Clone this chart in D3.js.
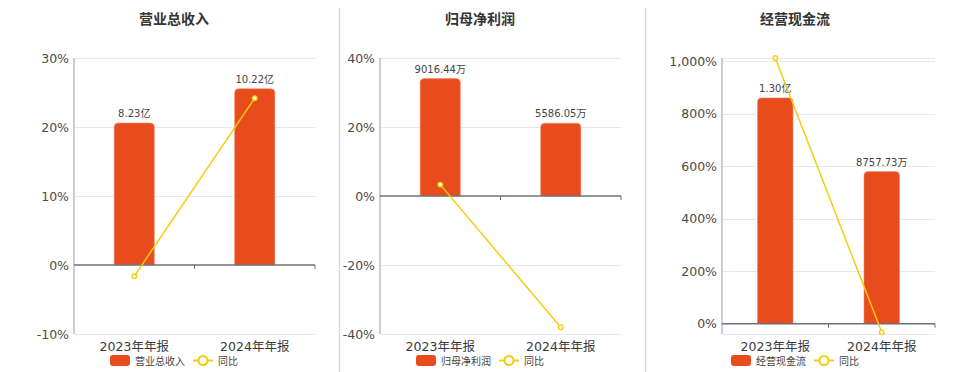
<!DOCTYPE html>
<html>
<head>
<meta charset="utf-8">
<script src="https://cdn.jsdelivr.net/npm/d3@7/dist/d3.min.js"></script>
<style>
  html, body { margin: 0; padding: 0; background: #fff; }
  svg { display: block; font-family: "DejaVu Sans", "Noto Sans CJK SC", sans-serif; }
</style>
</head>
<body>
<svg id="chart" width="960" height="372"></svg>
<script>
// ---- data ----
const categories = ["2023年年报", "2024年年报"];

const revenueTitle = "营业总收入";
const revenueValues = [8.23, 10.22];            // 亿
const revenueLabels = ["8.23亿", "10.22亿"];
const revenueYoY = [-1.64, 24.18];              // %
const revenueTicks = [-10, 0, 10, 20, 30];

const profitTitle = "归母净利润";
const profitValues = [9016.44, 5586.05];        // 万
const profitLabels = ["9016.44万", "5586.05万"];
const profitYoY = [3.3, -38.05];
const profitTicks = [-40, -20, 0, 20, 40];

const cashTitle = "经营现金流";
const cashValues = [13000, 8757.73];            // 万
const cashLabels = ["1.30亿", "8757.73万"];
const cashYoY = [1012, -32.63];
const cashTicks = [0, 200, 400, 600, 800, 1000];

const legendYoY = "同比";

// ---- style ----
const barColor = "#E84C1D";
const lineColor = "#F5CC0C";
const gridColor = "#E3E8F2";
const textColor = "#4a4a4a";

const svg = d3.select("#chart");

// separators
[339.5, 645.5].forEach(x => {
  svg.append("line").attr("x1", x).attr("x2", x).attr("y1", 8).attr("y2", 372)
    .attr("stroke", "#d9d9d9").attr("stroke-width", 1.5);
});

const pctFormat = d => d.toLocaleString("en-US") + "%";

function drawPanel(cfg) {
  const g = svg.append("g");
  const y = d3.scaleLinear().domain(cfg.pctDomain).range([cfg.bottom, cfg.top]);
  // hidden bar scale with zero aligned to the percent axis
  const ratio = cfg.barTop / cfg.pctDomain[1];
  const yb = d3.scaleLinear().domain([cfg.pctDomain[0] * ratio, cfg.barTop]).range([cfg.bottom, cfg.top]);
  const x = d3.scaleBand().domain(categories).range([cfg.left, cfg.right]);
  const bw = x.bandwidth() / 3;

  // title
  g.append("text").attr("x", cfg.titleX).attr("y", 24).attr("text-anchor", "middle")
    .attr("font-size", 14).attr("font-weight", "bold").attr("fill", "#333")
    .attr("font-family", "'Noto Sans CJK SC', sans-serif").text(cfg.title);

  // grid lines
  const gridVals = cfg.ticks.filter(t => t !== 0);
  g.selectAll(".grid").data(gridVals).join("line")
    .attr("x1", cfg.left).attr("x2", cfg.right)
    .attr("y1", d => Math.round(y(d)) + 0.5).attr("y2", d => Math.round(y(d)) + 0.5)
    .attr("stroke", gridColor).attr("stroke-width", 1);
  [cfg.top, cfg.bottom].forEach(v => {
    g.append("line").attr("x1", cfg.left).attr("x2", cfg.right)
      .attr("y1", Math.round(v) + 0.5).attr("y2", Math.round(v) + 0.5)
      .attr("stroke", gridColor).attr("stroke-width", 1);
  });

  // y axis labels
  const yAxis = d3.axisLeft(y).tickValues(cfg.ticks).tickSize(0).tickPadding(5)
    .tickFormat(pctFormat);
  const ya = g.append("g").attr("transform", `translate(${cfg.left},0)`).call(yAxis);
  ya.select(".domain").remove();
  ya.selectAll("text").attr("font-size", 12.5).attr("fill", textColor)
    .attr("font-family", "'DejaVu Sans', sans-serif");

  // y axis line
  g.append("line").attr("x1", cfg.left).attr("x2", cfg.left)
    .attr("y1", cfg.top).attr("y2", cfg.bottom)
    .attr("stroke", "#b8bcc4").attr("stroke-width", 1.5);

  // bars
  const data = categories.map((c, i) => ({ c, v: cfg.values[i], label: cfg.labels[i], yoy: cfg.yoy[i] }));
  const r = 4;
  g.selectAll(".bar").data(data).join("path")
    .attr("fill", barColor).attr("stroke", "#f08a6c").attr("stroke-width", 0.6)
    .attr("d", d => {
      const x0 = x(d.c) + x.bandwidth() / 2 - bw / 2, x1 = x0 + bw;
      const yt = yb(d.v), y0 = yb(0);
      return `M${x0},${y0}L${x0},${yt + r}Q${x0},${yt} ${x0 + r},${yt}L${x1 - r},${yt}Q${x1},${yt} ${x1},${yt + r}L${x1},${y0}Z`;
    });

  // data labels
  g.selectAll(".lbl").data(data).join("text")
    .attr("x", d => x(d.c) + x.bandwidth() / 2).attr("y", d => yb(d.v) - 6)
    .attr("text-anchor", "middle").attr("font-size", 10).attr("fill", "#444")
    .text(d => d.label);

  // zero axis line
  const y0 = y(0);
  g.append("line").attr("x1", cfg.left).attr("x2", cfg.right).attr("y1", y0).attr("y2", y0)
    .attr("stroke", "#6e7079").attr("stroke-width", 1.5);
  [x(categories[1]), cfg.right].forEach(xx => {
    g.append("line").attr("x1", xx).attr("x2", xx).attr("y1", y0).attr("y2", y0 + 4)
      .attr("stroke", "#6e7079").attr("stroke-width", 1);
  });

  // x labels
  g.selectAll(".xl").data(categories).join("text")
    .attr("x", d => x(d) + x.bandwidth() / 2).attr("y", 351)
    .attr("text-anchor", "middle").attr("font-size", 12.5).attr("fill", "#3a3a3a")
    .text(d => d);

  // yoy line
  const line = d3.line().x(d => x(d.c) + x.bandwidth() / 2).y(d => y(d.yoy));
  g.append("path").datum(data).attr("d", line).attr("fill", "none")
    .attr("stroke", lineColor).attr("stroke-width", 1.5);
  g.selectAll(".pt").data(data).join("circle")
    .attr("cx", d => x(d.c) + x.bandwidth() / 2).attr("cy", d => y(d.yoy)).attr("r", 2.3)
    .attr("fill", "#fff").attr("stroke", lineColor).attr("stroke-width", 1.3);

  // legend
  const lx = cfg.legendX, ly = 360.5;
  g.append("rect").attr("x", lx).attr("y", ly - 5.5).attr("width", 20).attr("height", 11).attr("rx", 3)
    .attr("fill", barColor);
  g.append("text").attr("x", lx + 25).attr("y", ly).attr("dominant-baseline", "central")
    .attr("font-size", 10).attr("fill", "#444").attr("font-family", "'Noto Sans CJK SC', sans-serif")
    .text(cfg.title);
  const sx = lx + 83;
  g.append("line").attr("x1", sx).attr("x2", sx + 20).attr("y1", ly).attr("y2", ly)
    .attr("stroke", lineColor).attr("stroke-width", 2);
  g.append("circle").attr("cx", sx + 10).attr("cy", ly).attr("r", 4.5)
    .attr("fill", "#fff").attr("stroke", lineColor).attr("stroke-width", 2);
  g.append("text").attr("x", sx + 25).attr("y", ly).attr("dominant-baseline", "central")
    .attr("font-size", 10).attr("fill", "#444").attr("font-family", "'Noto Sans CJK SC', sans-serif")
    .text(legendYoY);
}

drawPanel({
  title: revenueTitle, values: revenueValues, labels: revenueLabels, yoy: revenueYoY, ticks: revenueTicks,
  pctDomain: [-10, 30], barTop: 12,
  left: 74, right: 315, top: 58, bottom: 334, titleX: 174, legendX: 110
});
drawPanel({
  title: profitTitle, values: profitValues, labels: profitLabels, yoy: profitYoY, ticks: profitTicks,
  pctDomain: [-40, 40], barTop: 10600,
  left: 380, right: 621, top: 58, bottom: 334, titleX: 480, legendX: 416
});
drawPanel({
  title: cashTitle, values: cashValues, labels: cashLabels, yoy: cashYoY, ticks: cashTicks,
  pctDomain: [-39, 1013], barTop: 15313,
  left: 722, right: 935, top: 57.7, bottom: 334, titleX: 795, legendX: 731
});
</script>
</body>
</html>
